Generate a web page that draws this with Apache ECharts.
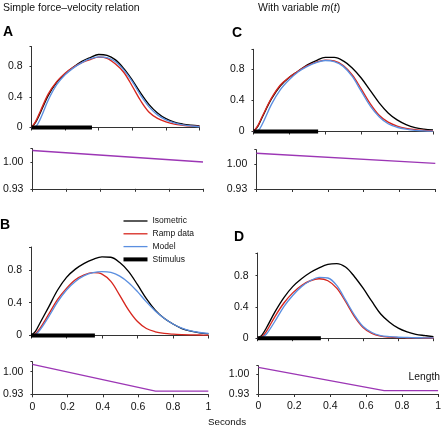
<!DOCTYPE html>
<html>
<head>
<meta charset="utf-8">
<script src="https://cdn.jsdelivr.net/npm/echarts@6/dist/echarts.min.js"></script>
<style>html,body{margin:0;padding:0;background:#fff}#c{width:444px;height:429px}</style>
</head>
<body>
<div id="c"></div>
<script>
// ---- data ----
const seconds = [0, 0.025, 0.05, 0.1, 0.15, 0.2, 0.25, 0.3, 0.35, 0.4, 0.45, 0.5, 0.55, 0.6, 0.65, 0.7, 0.75, 0.8, 0.85, 0.9, 0.95, 1];
const xTicks = [0, 0.2, 0.4, 0.6, 0.8, 1];
const forceTicks = [0, 0.4, 0.8];
const lengthTicks = [0.93, 1.00];

const isometricA = [0, 0.07, 0.18, 0.42, 0.59, 0.70, 0.79, 0.865, 0.915, 0.955, 0.945, 0.885, 0.77, 0.62, 0.45, 0.30, 0.19, 0.115, 0.07, 0.045, 0.03, 0.02];
const rampA      = [0, 0.08, 0.20, 0.44, 0.60, 0.71, 0.79, 0.85, 0.89, 0.92, 0.905, 0.83, 0.72, 0.54, 0.35, 0.20, 0.12, 0.075, 0.045, 0.03, 0.02, 0.015];
const modelA     = [0, 0.01, 0.10, 0.36, 0.56, 0.69, 0.78, 0.85, 0.90, 0.925, 0.915, 0.86, 0.75, 0.60, 0.42, 0.27, 0.165, 0.10, 0.06, 0.035, 0.02, 0.01];

const isometricC = [0, 0.07, 0.19, 0.42, 0.59, 0.70, 0.78, 0.86, 0.915, 0.955, 0.955, 0.91, 0.82, 0.69, 0.53, 0.37, 0.24, 0.15, 0.09, 0.05, 0.03, 0.02];
const rampC      = [0, 0.08, 0.20, 0.43, 0.60, 0.70, 0.78, 0.85, 0.895, 0.92, 0.91, 0.85, 0.73, 0.55, 0.36, 0.21, 0.12, 0.07, 0.04, 0.025, 0.015, 0.01];
const modelC     = [0, 0.01, 0.10, 0.35, 0.54, 0.67, 0.77, 0.84, 0.89, 0.915, 0.90, 0.84, 0.71, 0.52, 0.33, 0.19, 0.10, 0.055, 0.03, 0.015, 0.008, 0.005];

const isometricB = [0, 0.05, 0.15, 0.35, 0.555, 0.71, 0.81, 0.88, 0.93, 0.96, 0.955, 0.89, 0.78, 0.62, 0.45, 0.31, 0.21, 0.14, 0.085, 0.053, 0.033, 0.02];
const rampB      = [0, 0.02, 0.085, 0.26, 0.44, 0.575, 0.68, 0.74, 0.767, 0.75, 0.66, 0.49, 0.31, 0.17, 0.085, 0.045, 0.025, 0.016, 0.011, 0.008, 0.006, 0.004];
const modelB     = [0, 0.01, 0.065, 0.23, 0.41, 0.555, 0.66, 0.73, 0.767, 0.78, 0.77, 0.725, 0.645, 0.535, 0.41, 0.30, 0.21, 0.14, 0.09, 0.057, 0.037, 0.025];

const isometricD = [0, 0.04, 0.13, 0.34, 0.52, 0.66, 0.76, 0.84, 0.90, 0.945, 0.955, 0.91, 0.79, 0.64, 0.47, 0.31, 0.205, 0.128, 0.08, 0.05, 0.034, 0.02];
const rampD      = [0, 0.02, 0.085, 0.28, 0.45, 0.58, 0.675, 0.735, 0.76, 0.735, 0.64, 0.47, 0.28, 0.137, 0.06, 0.026, 0.013, 0.008, 0.006, 0.004, 0.003, 0.002];
const modelD     = [0, 0.01, 0.05, 0.22, 0.405, 0.547, 0.66, 0.735, 0.778, 0.77, 0.675, 0.49, 0.30, 0.15, 0.073, 0.034, 0.02, 0.012, 0.009, 0.006, 0.005, 0.004];

const stimulusTimes = [0, 0.36];
const stimulusValues = [0, 0];

const lengthTimesAC = [0, 1];
const lengthA = [1.03, 1.00];
const lengthC = [1.03, 1.002];
const lengthTimesBD = [0, 0.7, 1];
const lengthB = [1.023, 0.94, 0.94];
const lengthD = [1.023, 0.942, 0.942];

const legendNames = ['Isometric', 'Ramp data', 'Model', 'Stimulus'];

// ---- layout / style ----
const FONT = "'Liberation Sans', Arial, Helvetica, sans-serif";
const C_ISO = '#000000', C_RAMP = '#d7261e', C_MODEL = '#5b8fe0', C_LEN = '#9c36b5', C_AXIS = '#333';

// grids: [left, top, width, height]
const grids = [
  [31.5, 46.5, 168, 81],      // A top
  [31, 148.6, 172, 40.2],     // A len
  [253.5, 49.3, 179.5, 82.2], // C top
  [256.3, 149.7, 179, 39.3],  // C len
  [31, 247, 177.5, 88.5],     // B top
  [30, 361.7, 178.3, 32.6],   // B len
  [257.5, 253, 176, 85.2],    // D top
  [258.3, 365.7, 181, 28.3]   // D len
];
const yMax = [1.06, 1.035, 1.06, 1.04, 1.08, 1.031, 1.09, 1.029];

function pairs(xs, ys){ return xs.map((t,i)=>[t, ys[i]]); }
const near = (v, arr) => arr.some(a => Math.abs(a - v) < 1e-6);

const xAxes = grids.map((g, i) => ({
  gridIndex: i, type: 'value', min: 0, max: 1, interval: 0.2,
  axisLine: {lineStyle: {color: C_AXIS, width: 1}},
  axisTick: {show: true, length: 3, lineStyle: {color: C_AXIS}},
  axisLabel: {show: (i === 5 || i === 7), fontFamily: FONT, fontSize: 10.5, color: '#111', margin: 7,
    formatter: v => near(v, xTicks) ? (v === 0 || v === 1 ? String(v) : v.toFixed(1)) : ''},
  splitLine: {show: false}
}));
const yAxes = grids.map((g, i) => {
  const isLen = i % 2 === 1;
  return {
    gridIndex: i, type: 'value',
    min: isLen ? 0.93 : 0, max: yMax[i], interval: isLen ? 0.07 : 0.4,
    axisLine: {show: true, lineStyle: {color: C_AXIS, width: 1}},
    axisTick: {show: true, length: 2, lineStyle: {color: C_AXIS}},
    axisLabel: {fontFamily: FONT, fontSize: 10.5, color: '#111', margin: 9,
      formatter: v => isLen ? (near(v, lengthTicks) ? v.toFixed(2) : '') :
                              (near(v, forceTicks) ? (v === 0 ? '0' : v.toFixed(1)) : '')},
    splitLine: {show: false}
  };
});

const panels = [
  {g: 0, iso: isometricA, ramp: rampA, model: modelA},
  {g: 2, iso: isometricC, ramp: rampC, model: modelC},
  {g: 4, iso: isometricB, ramp: rampB, model: modelB},
  {g: 6, iso: isometricD, ramp: rampD, model: modelD}
];
const series = [];
function lineS(name, g, data, color, width, smooth){
  return {name, type: 'line', xAxisIndex: g, yAxisIndex: g, data, symbol: 'none', showSymbol: false,
    smooth: smooth, lineStyle: {color, width}, itemStyle: {color}, silent: true, animation: false, clip: false};
}
panels.forEach(p => {
  series.push(lineS(legendNames[0], p.g, pairs(seconds, p.iso), C_ISO, 1.35, 0.35));
  series.push(lineS(legendNames[1], p.g, pairs(seconds, p.ramp), C_RAMP, 1.35, 0.35));
  series.push(lineS(legendNames[2], p.g, pairs(seconds, p.model), C_MODEL, 1.35, 0.35));
  series.push(lineS(legendNames[3], p.g, pairs(stimulusTimes, stimulusValues), '#000', 4, false));
});
series.push(lineS('Length', 1, pairs(lengthTimesAC, lengthA), C_LEN, 1.3, false));
series.push(lineS('Length', 3, pairs(lengthTimesAC, lengthC), C_LEN, 1.3, false));
series.push(lineS('Length', 5, pairs(lengthTimesBD, lengthB), C_LEN, 1.3, false));
series.push(lineS('Length', 7, pairs(lengthTimesBD, lengthD), C_LEN, 1.3, false));

const txt = (text, x, y, size, opts) => Object.assign({
  type: 'text', x, y, silent: true,
  style: Object.assign({text, font: size + 'px ' + FONT, fill: '#111', textAlign: 'left', textVerticalAlign: 'middle', verticalAlign: 'middle'}, (opts||{}))
});
const boldTxt = (text, x, y) => ({type: 'text', x, y, silent: true,
  style: {text, font: 'bold 14px ' + FONT, fill: '#000', textAlign: 'left', verticalAlign: 'middle', textVerticalAlign: 'middle'}});

const thinIcon = 'path://M0,0H24V1.3H0Z';
const thickIcon = 'path://M0,0H24V4H0Z';

const chart = echarts.init(document.getElementById('c'), null, {renderer: 'canvas'});
chart.setOption({
  animation: false,
  backgroundColor: '#fff',
  grid: grids.map(g => ({left: g[0], top: g[1], width: g[2], height: g[3], containLabel: false})),
  xAxis: xAxes,
  yAxis: yAxes,
  legend: {
    orient: 'vertical', left: 123.5, top: 216.5, padding: 0, itemWidth: 24, itemHeight: 8, itemGap: 3.8,
    selectedMode: false, symbolKeepAspect: true,
    textStyle: {fontFamily: FONT, fontSize: 8.5, color: '#111'},
    data: [
      {name: legendNames[0], icon: thinIcon, itemStyle: {color: C_ISO}},
      {name: legendNames[1], icon: thinIcon, itemStyle: {color: C_RAMP}},
      {name: legendNames[2], icon: thinIcon, itemStyle: {color: C_MODEL}},
      {name: legendNames[3], icon: thickIcon, itemStyle: {color: '#000'}}
    ]
  },
  series,
  graphic: [
    txt('Simple force\u2013velocity relation', 3, 8, 10.5),
    {type: 'text', x: 258, y: 8, silent: true, style: {
      text: '{n|With variable }{i|m}{n|(}{i|t}{n|)}', verticalAlign: 'middle', textVerticalAlign: 'middle',
      rich: {n: {fontFamily: FONT, fontSize: 10.5, fill: '#111', color: '#111'},
             i: {fontFamily: FONT, fontSize: 10.5, fontStyle: 'italic', fill: '#111', color: '#111'}}}},
    boldTxt('A', 3, 32),
    boldTxt('C', 232, 33.5),
    boldTxt('B', 0, 225.5),
    boldTxt('D', 234, 237),
    txt('Seconds', 227, 422, 9.8, {textAlign: 'center', align: 'center'}),
    txt('Length', 440, 377, 10.3, {textAlign: 'right', align: 'right'})
  ]
});
</script>
</body>
</html>
